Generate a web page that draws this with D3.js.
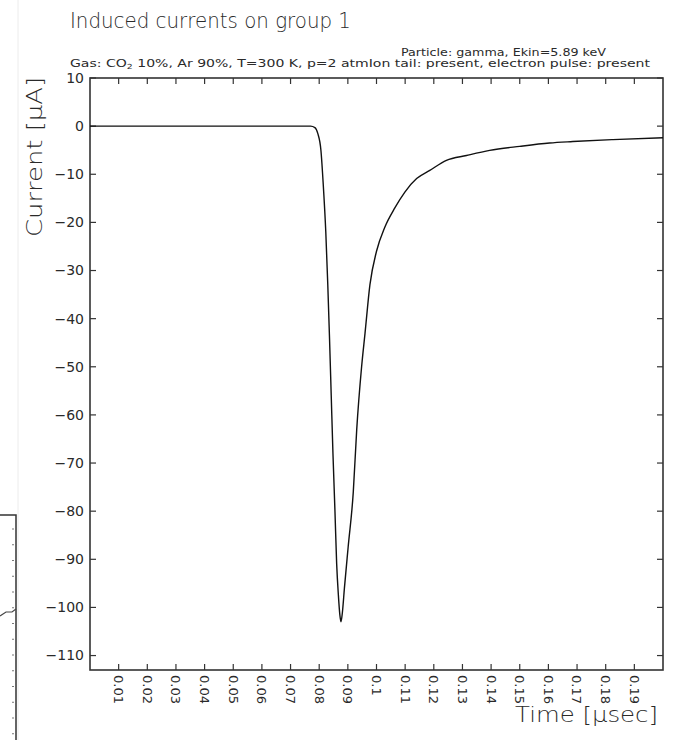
<!DOCTYPE html>
<html>
<head>
<meta charset="utf-8">
<script src="https://cdn.jsdelivr.net/npm/d3@7/dist/d3.min.js"></script>
<style>
  html, body { margin: 0; padding: 0; background: #fff; }
  svg { display: block; }
  text { font-family: "DejaVu Sans", "Liberation Sans", sans-serif; fill: #2a2a2a; }
  .thin { font-weight: 200; }
</style>
</head>
<body>
<script>
// ---- data ----
const timeUsec = [0, 0.02, 0.04, 0.06, 0.0770, 0.0785, 0.0795, 0.0806, 0.0814, 0.0823, 0.0830, 0.0836,
  0.0842, 0.0848, 0.0855, 0.0861, 0.0867, 0.0872, 0.0876, 0.0881, 0.0888, 0.0901, 0.0919, 0.0931,
  0.0948, 0.0960, 0.0977, 0.1000, 0.1029, 0.1064, 0.1099, 0.1140, 0.1186, 0.1244, 0.1314, 0.1395,
  0.1500, 0.1604, 0.1685, 0.1825, 0.2000];
const currentUA = [0, 0, 0, 0, 0, -0.3, -1.5, -5, -12, -22, -33, -44,
  -56, -68, -80, -91, -97.5, -101.5, -103, -101, -96, -87.5, -76, -63,
  -50, -43, -33, -26, -21, -17, -13.7, -10.9, -9.2, -7.1, -6.1, -5.05,
  -4.2, -3.5, -3.2, -2.8, -2.4];
const xTicks = [0.01, 0.02, 0.03, 0.04, 0.05, 0.06, 0.07, 0.08, 0.09, 0.1, 0.11, 0.12, 0.13, 0.14, 0.15, 0.16, 0.17, 0.18, 0.19];
const xTickLabels = ["0.01","0.02","0.03","0.04","0.05","0.06","0.07","0.08","0.09","0.1","0.11","0.12","0.13","0.14","0.15","0.16","0.17","0.18","0.19"];
const yTicks = [10, 0, -10, -20, -30, -40, -50, -60, -70, -80, -90, -100, -110];
const yTickLabels = ["10","0","\u221210","\u221220","\u221230","\u221240","\u221250","\u221260","\u221270","\u221280","\u221290","\u2212100","\u2212110"];
const titleText = "Induced currents on group 1";
const subtitle1 = "Particle: gamma, Ekin=5.89 keV";
const xLabel = "Time [\u03bcsec]";
const yLabel = "Current [\u03bcA]";

// ---- layout ----
const W = 677, H = 740;
const m = { left: 90, right: 663, top: 78, bottom: 670 };

const svg = d3.select("body").append("svg").attr("width", W).attr("height", H);

const x = d3.scaleLinear().domain([0, 0.2]).range([m.left, m.right]);
const y = d3.scaleLinear().domain([-113, 10]).range([m.bottom, m.top]);

// faint vertical artefact line
svg.append("line").attr("x1", 18).attr("x2", 18).attr("y1", 0).attr("y2", H)
  .attr("stroke", "#ececec").attr("stroke-width", 1);

// stray fragment at lower left
const frag = svg.append("g");
const fy = d3.scaleLinear().domain([0, 1]).range([515, 740]);
frag.append("path").attr("d", d3.line()([[0, fy(0)], [16, fy(0)], [16, fy(1)]]))
  .attr("fill", "none").attr("stroke", "#333").attr("stroke-width", 1.5);
d3.range(0.06, 1, 0.07).forEach(v => {
  frag.append("rect").attr("x", 12).attr("y", fy(v)).attr("width", 2).attr("height", 1).attr("fill", "#777");
});
frag.append("path").attr("d", d3.line()([[0, 616], [6, 612], [12, 612], [16, 609]]))
  .attr("fill", "none").attr("stroke", "#444").attr("stroke-width", 1.2);

// title
svg.append("text").attr("class", "thin").attr("x", 70).attr("y", 28).attr("font-size", 21)
  .attr("textLength", 281).attr("lengthAdjust", "spacingAndGlyphs")
  .text(titleText);

svg.append("text").attr("x", 401).attr("y", 56).attr("font-size", 10.5)
  .attr("textLength", 205).attr("lengthAdjust", "spacingAndGlyphs").text(subtitle1);

const sub2 = svg.append("text").attr("x", 70).attr("y", 67).attr("font-size", 10.5)
  .attr("textLength", 580).attr("lengthAdjust", "spacingAndGlyphs");
sub2.append("tspan").text("Gas: CO");
sub2.append("tspan").attr("font-size", 7).attr("dy", 2).text("2");
sub2.append("tspan").attr("dy", -2).text(" 10%, Ar 90%, T=300 K, p=2 atmIon tail: present, electron pulse: present");

// frame
svg.append("rect").attr("x", m.left).attr("y", m.top)
  .attr("width", m.right - m.left).attr("height", m.bottom - m.top)
  .attr("fill", "none").attr("stroke", "#333").attr("stroke-width", 1.6);

const tl = 6;
// x ticks bottom & top
svg.append("g").selectAll("line").data(xTicks).join("line")
  .attr("x1", d => x(d)).attr("x2", d => x(d)).attr("y1", m.bottom).attr("y2", m.bottom - tl)
  .attr("stroke", "#333").attr("stroke-width", 1.2);
svg.append("g").selectAll("line").data(xTicks).join("line")
  .attr("x1", d => x(d)).attr("x2", d => x(d)).attr("y1", m.top).attr("y2", m.top + tl)
  .attr("stroke", "#333").attr("stroke-width", 1.2);
// y ticks left & right
svg.append("g").selectAll("line").data(yTicks).join("line")
  .attr("x1", m.left).attr("x2", m.left + tl).attr("y1", d => y(d)).attr("y2", d => y(d))
  .attr("stroke", "#333").attr("stroke-width", 1.2);
svg.append("g").selectAll("line").data(yTicks).join("line")
  .attr("x1", m.right).attr("x2", m.right - tl).attr("y1", d => y(d)).attr("y2", d => y(d))
  .attr("stroke", "#333").attr("stroke-width", 1.2);

// x tick labels (rotated)
svg.append("g").selectAll("text").data(xTicks).join("text")
  .attr("transform", d => `translate(${x(d)},${m.bottom + 5}) rotate(90)`)
  .attr("dy", "0.35em").attr("font-size", 13)
  .text((d, i) => xTickLabels[i]);

// y tick labels
svg.append("g").selectAll("text").data(yTicks).join("text")
  .attr("x", m.left - 6).attr("y", d => y(d)).attr("dy", "0.35em")
  .attr("text-anchor", "end").attr("font-size", 14)
  .text((d, i) => yTickLabels[i]);

// axis titles
svg.append("text").attr("class", "thin").attr("transform", `translate(42,157) rotate(-90)`)
  .attr("text-anchor", "middle").attr("font-size", 21)
  .attr("textLength", 160).attr("lengthAdjust", "spacingAndGlyphs")
  .text(yLabel);
svg.append("text").attr("class", "thin").attr("x", 515).attr("y", 722).attr("font-size", 22)
  .attr("textLength", 143).attr("lengthAdjust", "spacingAndGlyphs")
  .text(xLabel);

// curve
svg.append("clipPath").attr("id", "clip").append("rect")
  .attr("x", m.left).attr("y", m.top).attr("width", m.right - m.left).attr("height", m.bottom - m.top);
const pts = timeUsec.map((t, i) => [t, currentUA[i]]);
svg.append("path").datum(pts).attr("clip-path", "url(#clip)")
  .attr("fill", "none").attr("stroke", "#111").attr("stroke-width", 1.4)
  .attr("stroke-linejoin", "round")
  .attr("d", d3.line().x(d => x(d[0])).y(d => y(d[1])).curve(d3.curveMonotoneX));
</script>
</body>
</html>
